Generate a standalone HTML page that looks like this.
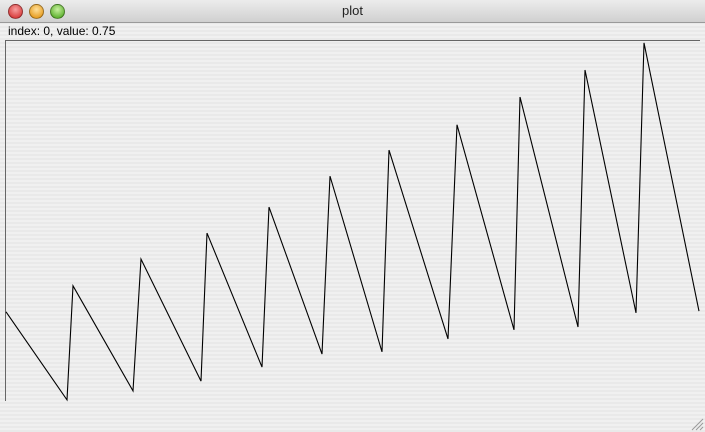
<!DOCTYPE html>
<html><head><meta charset="utf-8"><style>
body{margin:0;width:705px;height:432px;overflow:hidden;font-family:"Liberation Sans",sans-serif;}
#win{position:absolute;left:0;top:0;width:705px;height:432px;background:repeating-linear-gradient(#f0f0f0 0 2px,#e9e9e9 2px 4px);}
#bar{position:absolute;left:0;top:0;width:705px;height:22px;background:linear-gradient(#ececec,#d0d0d0);border-bottom:1px solid #9a9a9a;text-align:center;font-size:13px;line-height:22px;color:#222}
.btn{position:absolute;top:4px;width:13px;height:13px;border-radius:50%;border:1px solid rgba(0,0,0,.35)}
#lbl{position:absolute;left:8px;top:24px;font-size:12px;color:#000}
</style></head><body>
<div id="win">
<div id="bar">
<div class="btn" style="left:8px;background:radial-gradient(circle at 50% 35%,#f7a0a0,#d02020)"></div>
<div class="btn" style="left:29px;background:radial-gradient(circle at 50% 35%,#ffe09a,#e08a00)"></div>
<div class="btn" style="left:50px;background:radial-gradient(circle at 50% 35%,#c8f0a0,#40a010)"></div>
<span>plot</span>
</div>
<div id="lbl">index: 0, value: 0.75</div>
<svg id="chart" width="705" height="432" style="position:absolute;left:0;top:0">
<line x1="5.5" y1="40" x2="5.5" y2="401" stroke="#666"/>
<line x1="5" y1="40.5" x2="700" y2="40.5" stroke="#666"/>
<g stroke="#999"><line x1="692" y1="430" x2="703" y2="419"/><line x1="696" y1="430" x2="703" y2="423"/><line x1="700" y1="430" x2="703" y2="427"/></g>
</svg>
</div>
<script>
const indices=[0,61,67,127,135,195,201,256,263,316,324,376,383,442,451,508,514,572,579,630,638,693];
const values=[0.247,0.003,0.319,0.028,0.393,0.055,0.465,0.094,0.537,0.130,0.623,0.136,0.695,0.172,0.765,0.197,0.842,0.205,0.917,0.244,0.992,0.249];
const xs=i=>6+i*(693/693), ys=v=>401-v*361;
const svg=document.getElementById('chart');
const p=document.createElementNS('http://www.w3.org/2000/svg','path');
p.setAttribute('d',indices.map((i,k)=>(k?'L':'M')+xs(i).toFixed(1)+','+ys(values[k]).toFixed(1)).join(''));
p.setAttribute('fill','none');p.setAttribute('stroke','#000');p.setAttribute('stroke-width','1.1');


svg.appendChild(p);
</script>
</body></html>
